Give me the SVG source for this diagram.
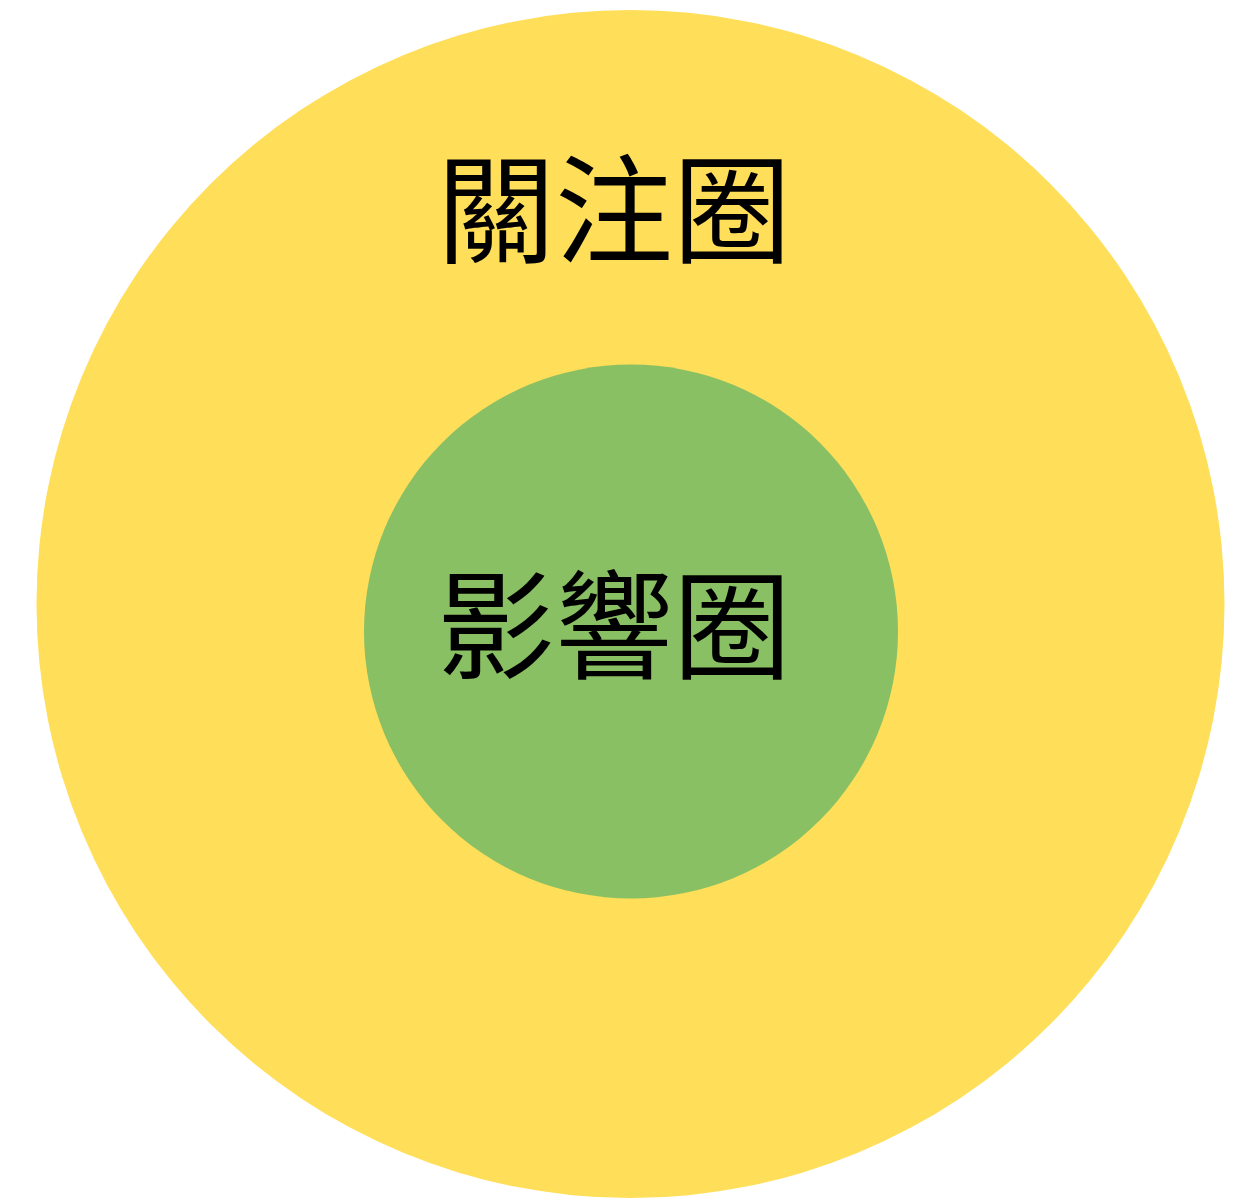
<svg xmlns="http://www.w3.org/2000/svg" width="1249" height="1198" viewBox="0 0 1249 1198">
<style>
.lbl{font-family:"Noto Sans CJK TC","Noto Sans CJK SC",sans-serif;font-size:118px;fill:#000;text-anchor:middle}
</style>
<rect width="1249" height="1198" fill="#fff"/>
<g id="concern">
<circle cx="630.5" cy="604" r="594" fill="#FFDE59"/>
<text class="lbl" x="614" y="254">關注圈</text>
</g>
<g id="influence">
<circle cx="631" cy="631.5" r="267" fill="#8AC064"/>
<text class="lbl" x="614" y="670">影響圈</text>
</g>
<g id="connectors"/>
</svg>
